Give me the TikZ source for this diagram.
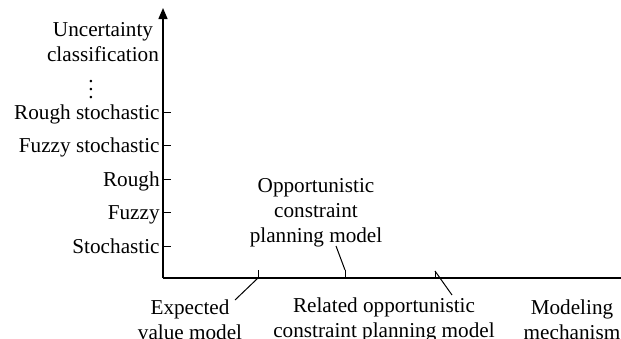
\documentclass[tikz,border=0pt]{standalone}
\usepackage{fontspec}
\setmainfont{Liberation Serif}
\usetikzlibrary{arrows.meta}

\begin{document}
\begin{tikzpicture}[
    x=0.5pt, y=-0.5pt,
    lbl/.style={font=\fontsize{10.6}{12.5}\selectfont, inner sep=1pt, align=center},
    axis/.style={line width=0.75pt},
    tick/.style={line width=0.5pt},
    >={Triangle[length=5.5pt,width=4.5pt]}
    ]
    \useasboundingbox (0,0) rectangle (621,338);
    % axes
    \coordinate (o) at (163,278);
    \coordinate (ytop) at (163,8);
    \coordinate (xend) at (625,278);
    \draw[axis,->] (o) -- (ytop);
    \draw[axis] (o) -- (xend);
    % uncertainty classes
    \node[lbl] (ylab) at (103,42) {Uncertainty\\classification};
    \node[lbl] (dots) at (91,84) {$\vdots$};
    \foreach \y/\t [count=\i] in {112/Rough stochastic, 145/Fuzzy stochastic,
        179/Rough, 212/Fuzzy, 246/Stochastic} {
      \draw[tick] (163,\y) -- (171,\y);
      \node[lbl, anchor=base east] (u\i) at (162,\y+7) {\t};
    }
    % modeling mechanisms
    \coordinate (m1) at (258,278);
    \coordinate (m2) at (345,278);
    \coordinate (m3) at (435,278);
    \draw[tick] (m1) -- ++(0,-8) coordinate (m1t);
    \draw[tick] (m2) -- ++(0,-8) coordinate (m2t);
    \draw[tick] (m3) -- ++(0,-7) coordinate (m3t);
    \node[lbl] (ev) at (190,320) {Expected\\value model};
    \node[lbl] (ocp) at (316,213) {Opportunistic\\constraint\\planning model};
    \node[lbl] (rocp) at (384,320) {Related opportunistic\\constraint planning model};
    \node[lbl] (xlab) at (572,320) {Modeling\\mechanism};
    \coordinate (ev1) at (235,300);
    \coordinate (ocp1) at (336,246);
    \coordinate (rocp1) at (452,295);
    \draw[tick] (m1) -- (ev1);
    \draw[tick] (m2t) -- (ocp1);
    \draw[tick] (m3t) -- (rocp1);
\end{tikzpicture}
\end{document}
